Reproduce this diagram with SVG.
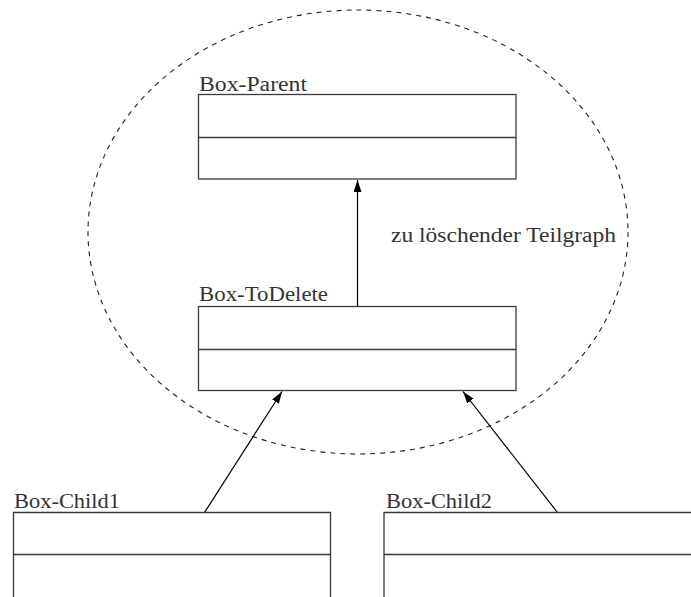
<svg xmlns="http://www.w3.org/2000/svg" width="691" height="597" viewBox="0 0 691 597">
  <style>
    .box { fill: #fff; stroke: #3a3a3a; stroke-width: 1.3; }
    .div { stroke: #3a3a3a; stroke-width: 1.3; }
    .lbl { font-family: "Liberation Serif", "DejaVu Serif", serif; font-size: 20px; fill: #333; }
    .edge { stroke: #000; stroke-width: 1.2; fill: none; marker-end: url(#arrow); }
    .region { fill: none; stroke: #222; stroke-width: 1.1; stroke-dasharray: 5 5; }
  </style>
  <defs>
    <marker id="arrow" viewBox="0 0 12 8" refX="12" refY="4" markerWidth="12" markerHeight="8" markerUnits="userSpaceOnUse" orient="auto">
      <path d="M0,0 L12,4 L0,8 Z" fill="#000"/>
    </marker>
  </defs>
  <rect width="691" height="597" fill="#fff"/>

  <!-- subgraph to be deleted -->
  <g id="region">
    <ellipse class="region" cx="358" cy="232" rx="270" ry="222"/>
    <text class="lbl" x="391" y="242" textLength="225" lengthAdjust="spacingAndGlyphs">zu löschender Teilgraph</text>
  </g>

  <g id="box-parent">
    <text class="lbl" x="199" y="90.5" textLength="108" lengthAdjust="spacingAndGlyphs">Box-Parent</text>
    <rect class="box" x="198.5" y="94.5" width="317.5" height="84.5"/>
    <line class="div" x1="198.5" y1="137.5" x2="516" y2="137.5"/>
  </g>

  <g id="box-todelete">
    <text class="lbl" x="199" y="300.5" textLength="129" lengthAdjust="spacingAndGlyphs">Box-ToDelete</text>
    <rect class="box" x="198.5" y="306.5" width="317.5" height="84"/>
    <line class="div" x1="198.5" y1="349.5" x2="516" y2="349.5"/>
  </g>

  <g id="box-child1">
    <text class="lbl" x="14" y="507.5" textLength="106" lengthAdjust="spacingAndGlyphs">Box-Child1</text>
    <path class="box" d="M13.5,600 V512.5 H330.5 V600"/>
    <line class="div" x1="13.5" y1="554.5" x2="330.5" y2="554.5"/>
  </g>

  <g id="box-child2">
    <text class="lbl" x="386" y="507.5" textLength="106" lengthAdjust="spacingAndGlyphs">Box-Child2</text>
    <path class="box" d="M384,600 V512.5 H700"/>
    <line class="div" x1="384" y1="554.5" x2="700" y2="554.5"/>
  </g>

  <g id="connectors">
    <line class="edge" x1="357.5" y1="306" x2="357.5" y2="180"/>
    <line class="edge" x1="204.5" y1="512.5" x2="282" y2="391.5"/>
    <line class="edge" x1="557.5" y1="512.5" x2="463" y2="391.5"/>
  </g>
</svg>
